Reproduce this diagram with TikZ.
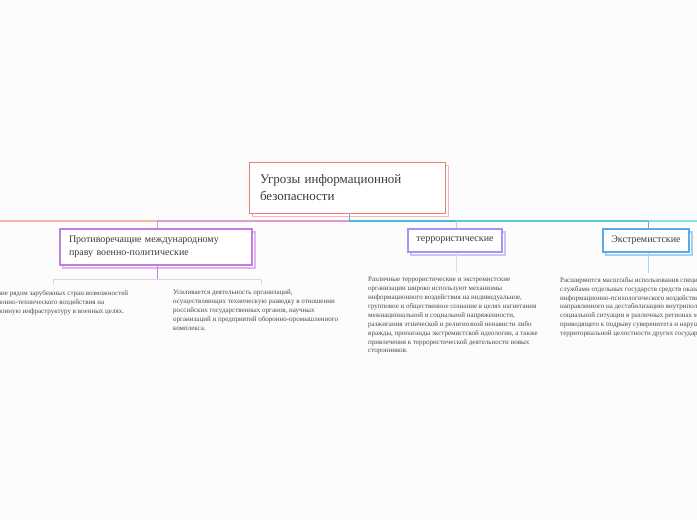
\documentclass[tikz,border=0pt]{standalone}
\usepackage{fontspec}
\setmainfont{Liberation Serif}
\usetikzlibrary{shadows}
\definecolor{bg}{HTML}{FCFCFC}
\definecolor{cred}{HTML}{F47A78}
\definecolor{cpurple}{HTML}{C47DE0}
\definecolor{clav}{HTML}{A793F4}
\definecolor{cblue}{HTML}{5AA9E8}
\definecolor{txt}{HTML}{3A3A3A}
\definecolor{small}{HTML}{4A4A4A}
\definecolor{bsalmon}{HTML}{F9B2A8}
\definecolor{bpink}{HTML}{E09AD2}
\definecolor{bblue}{HTML}{4BB8E0}
\definecolor{bcyan}{HTML}{5CC9E0}
\definecolor{bturq}{HTML}{8AE0E0}
\tikzset{
  topic/.style={draw=#1, line width=1.1pt, fill=white, text=txt, inner sep=0pt,
    general shadow={shadow xshift=3pt, shadow yshift=-3pt, draw=#1!55, line width=1.1pt, fill=white}},
  smalltext/.style={anchor=north west, inner sep=0pt, align=left, text=small,
    font=\fontsize{7}{8.9}\selectfont},
  bar/.style={line width=2pt},
  link/.style={line width=1pt}
}
\begin{document}
\begin{tikzpicture}[x=1pt,y=-1pt]
\fill[bg] (0,0) rectangle (697,520);
\useasboundingbox (0,0) rectangle (697,520);

% central node
\node[topic=cred, minimum width=196pt, minimum height=51pt, text width=175pt, align=left,
  font=\fontsize{13}{17}\selectfont] (C) at (347.5,188) {\raisebox{-2pt}{\parbox{175pt}{Угрозы информационной\\безопасности}}};

% main bar coordinates
\coordinate (b0) at (0,221);
\coordinate (j1) at (157,221);
\coordinate (jc) at (349,221);
\coordinate (j2) at (456,221);
\coordinate (j3) at (648,221);
\coordinate (b1) at (697,221);

\draw[bar, bsalmon] (b0) -- (j1);
\draw[bar, bpink] (j1) -- (jc);
\draw[bar, bblue] (jc) -- (j2);
\draw[bar, bcyan] (j2) -- (j3);
\draw[bar, bturq] (j3) -- (b1);
\draw[link, bblue] (jc |- C.south) -- (jc);

% level-1 nodes
\node[topic=cpurple, minimum width=192pt, minimum height=36pt, text width=174pt, align=left,
  font=\fontsize{10}{13}\selectfont] (A) at (156,247) {\raisebox{-2pt}{\parbox{174pt}{Противоречащие международному\\праву военно-политические}}};
\node[topic=clav, minimum width=94pt, minimum height=23pt,
  font=\fontsize{10}{13}\selectfont] (T) at (455,240.5) {\raisebox{-1.5pt}{террористические}};
\node[topic=cblue, minimum width=86pt, minimum height=23pt,
  font=\fontsize{10}{13}\selectfont] (E) at (646,240.5) {\raisebox{-1.5pt}{Экстремистские}};

\draw[link, bpink] (j1) -- (j1 |- A.north);
\draw[link, clav!60] (j2) -- (j2 |- T.north);
\draw[link, cblue] (j3) -- (j3 |- E.north);

% leaf texts
\node[smalltext] (A1) at (-33,290) {Наращивание рядом зарубежных стран возможностей\\информационно-технического воздействия на\\информационную инфраструктуру в военных целях.};
\node[smalltext] (A2) at (173,290) {Усиливается деятельность организаций,\\осуществляющих техническую разведку в отношении\\российских государственных органов, научных\\организаций и предприятий оборонно-промышленного\\комплекса.};
\node[smalltext] (T1) at (368,277) {Различные террористические и экстремистские\\организации широко используют механизмы\\информационного воздействия на индивидуальное,\\групповое и общественное сознание в целях нагнетания\\межнациональной и социальной напряженности,\\разжигания этнической и религиозной ненависти либо\\вражды, пропаганды экстремистской идеологии, а также\\привлечения к террористической деятельности новых\\сторонников.};
\node[smalltext] (E1) at (560,277) {Расширяются масштабы использования специальными\\службами отдельных государств средств оказания\\информационно-психологического воздействия,\\направленного на дестабилизацию внутриполитической и\\социальной ситуации в различных регионах мира и\\приводящего к подрыву суверенитета и нарушению\\территориальной целостности других государств.};

% level-2 connectors
\coordinate (s1) at (53,279.5);
\coordinate (s2) at (261,279.5);
\draw[link, cpurple] (A.south -| j1) -- (j1 |- s1);
\draw[link, cpurple!40] (s1) -- (s2);
\draw[link, cpurple!40] (s1) -- ++(0,5);
\draw[link, cpurple!40] (s2) -- ++(0,5);
\draw[link, clav!35] (T.south -| j2) -- ++(0,20);
\draw[link, cblue!50] (E.south -| j3) -- ++(0,20);
\end{tikzpicture}
\end{document}
